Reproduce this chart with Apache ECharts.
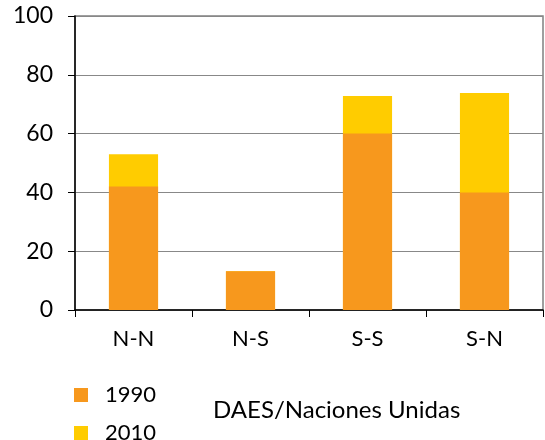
<!DOCTYPE html>
<html><head><meta charset="utf-8">
<script src="https://cdn.jsdelivr.net/npm/echarts@6/dist/echarts.min.js"></script>
<style>html,body{margin:0;padding:0;background:#fff}#c{width:545px;height:440px}</style>
</head><body><div id="c"></div>
<script>
const categories = ['N-N', 'N-S', 'S-S', 'S-N'];
const values1990 = [42, 13.2, 60, 40];
const values2010 = [53, 13.2, 72.8, 73.8];
const yTicks = [0, 20, 40, 60, 80, 100];
const sourceText = 'DAES/Naciones Unidas';

const FONT = 'Lato';
const legendText = {fontFamily: FONT, fontSize: 22, color: '#000', lineHeight: 24, padding: [0, 0, 0, 12]};
const chart = echarts.init(document.getElementById('c'), null, {renderer: 'canvas'});
chart.setOption({
  animation: false,
  backgroundColor: '#fff',
  grid: {left: 75, right: 2, top: 16, bottom: 130, show: true, borderColor: '#808080', borderWidth: 1.5},
  legend: [
    {data: ['1990'], left: 74, top: 383, padding: 0, icon: 'rect', itemWidth: 14, itemHeight: 14, textStyle: legendText},
    {data: ['2010'], left: 74, top: 421, padding: 0, icon: 'rect', itemWidth: 14, itemHeight: 14, textStyle: legendText}
  ],
  graphic: [{type: 'text', left: 213, top: 398, style: {text: sourceText, fontFamily: FONT, fontSize: 24, fill: '#000'}}],
  xAxis: {
    type: 'category', data: categories,
    axisLine: {lineStyle: {color: '#000', width: 1.5}},
    axisTick: {show: true, length: 7, lineStyle: {color: '#000'}},
    axisLabel: {fontFamily: FONT, fontSize: 22, color: '#000', margin: 18},
    splitLine: {show: false}
  },
  yAxis: {
    type: 'value', min: 0, max: 100, interval: 20,
    axisLine: {show: true, lineStyle: {color: '#000', width: 1.5}},
    axisTick: {show: true, length: 7, lineStyle: {color: '#000'}},
    axisLabel: {fontFamily: FONT, fontSize: 23, color: '#000', margin: 22,
      formatter: v => yTicks.includes(v) ? String(v) : ''},
    splitLine: {lineStyle: {color: '#888', width: 1}}
  },
  series: [
    {name: '2010', type: 'bar', data: values2010, barWidth: '42%', itemStyle: {color: '#FFCC00'}, z: 2},
    {name: '1990', type: 'bar', data: values1990, barWidth: '42%', barGap: '-100%', itemStyle: {color: '#F7981D'}, z: 3}
  ]
});
</script></body></html>
